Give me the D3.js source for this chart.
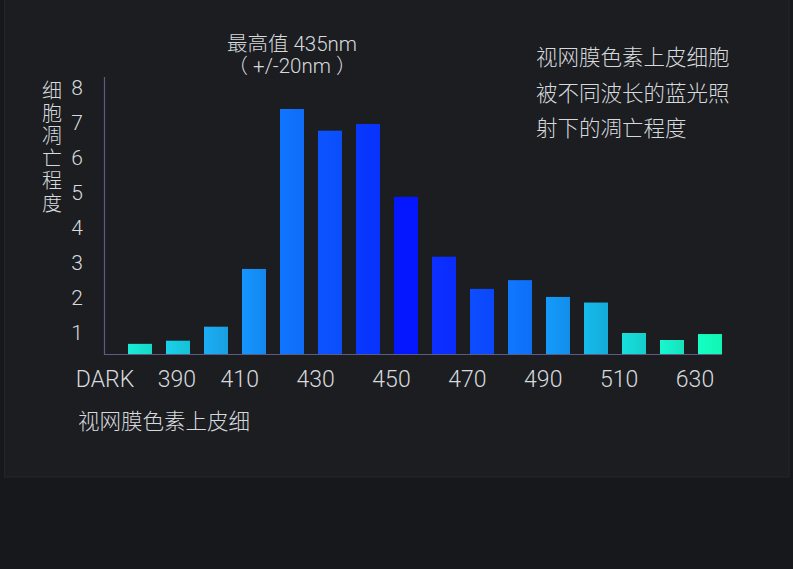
<!DOCTYPE html>
<html>
<head>
<meta charset="utf-8">
<script src="https://cdn.jsdelivr.net/npm/d3@7"></script>
<style>
  html, body { margin: 0; padding: 0; background: #17181c; }
  svg { display: block; }
  text { font-family: Roboto, "Noto Sans CJK SC", sans-serif; fill: #d6dadd; font-weight: 300; }
</style>
</head>
<body>
<svg id="chart" width="793" height="569"></svg>
<script>
// bar values (16 bars, wavelengths DARK .. 630)
const barValues = [0.69, 0.78, 1.18, 2.83, 7.4, 6.78, 6.97, 4.89, 3.18, 2.26, 2.51, 2.03, 1.87, 1.0, 0.8, 0.97]
const barColors = ['#16d8c6', '#17c0d6', '#199fe0', '#1388ee', '#0f6cf8', '#0b4dfa', '#0833fc', '#0416ff',
                   '#0a2cfc', '#0b47fa', '#0e6ef6', '#128ee8', '#14abd8', '#15cdca', '#16e2bd', '#12f5b4']
const xLabels = ['DARK', '390', '410', '430', '450', '470', '490', '510', '630']
const yTicks = [1, 2, 3, 4, 5, 6, 7, 8]
const yTitle = '细胞凋亡程度'
const xTitle = '视网膜色素上皮细'
const peakLines = ['最高值 435nm', '（ +/-20nm ）']
const noteLines = ['视网膜色素上皮细胞', '被不同波长的蓝光照', '射下的凋亡程度']

const svg = d3.select('#chart')

// card behind the chart
svg.append('rect')
    .attr('x', 4.5).attr('y', -1)
    .attr('width', 784.5).attr('height', 478)
    .attr('fill', '#1c1d21')
    .attr('stroke', '#24252a')

const margin = {left: 104, top: 77}
const baseValue = 0.4   // baseline of the axis sits below tick "1"

const x = d3.scaleBand()
    .domain(d3.range(barValues.length))
    .range([128, 722])
    .paddingInner(14 / 38)
    .paddingOuter(0)

const y = d3.scaleLinear()
    .domain([baseValue, 8])
    .range([354, 88])

// label axis (labels don't line up with bars in the original)
const xl = d3.scalePoint()
    .domain(xLabels)
    .range([88, 695])
const labelNudge = {DARK: 17, '390': 13}

const defs = svg.append('defs')
barColors.forEach((c, i) => {
    const g = defs.append('linearGradient')
        .attr('id', 'bar' + i)
        .attr('x1', 0).attr('x2', 1).attr('y1', 0).attr('y2', 0)
    g.append('stop').attr('offset', 0).attr('stop-color', d3.color(c).brighter(0.25))
    g.append('stop').attr('offset', 1).attr('stop-color', c)
})

svg.append('g')
    .selectAll('rect')
    .data(barValues)
    .join('rect')
    .attr('x', (d, i) => x(i))
    .attr('width', x.bandwidth())
    .attr('y', d => y(d))
    .attr('height', d => y(baseValue) - y(d))
    .attr('fill', (d, i) => `url(#bar${i})`)

// axis lines
const axisColor = '#5c5b86'
svg.append('path')
    .attr('d', `M${margin.left + .5},${margin.top}V${y(baseValue) + .5}H${x(barValues.length - 1) + x.bandwidth()}`)
    .attr('fill', 'none')
    .attr('stroke', axisColor)
    .attr('stroke-width', 1.2)

// y tick labels
svg.append('g')
    .selectAll('text')
    .data(yTicks)
    .join('text')
    .attr('x', 77)
    .attr('y', d => y(d) + 7)
    .attr('text-anchor', 'middle')
    .style('font-size', '21px')
    .text(d => d)

// x labels
svg.append('g')
    .selectAll('text')
    .data(xLabels)
    .join('text')
    .attr('x', d => xl(d) + (labelNudge[d] || 0))
    .attr('y', 387)
    .attr('text-anchor', 'middle')
    .style('font-size', '23px')
    .text(d => d)

// vertical y title
svg.append('g')
    .selectAll('text')
    .data(Array.from(yTitle))
    .join('text')
    .attr('x', 52)
    .attr('y', (d, i) => 98 + i * 22.6)
    .attr('text-anchor', 'middle')
    .style('font-size', '20px')
    .text(d => d)

svg.append('text')
    .attr('x', 78)
    .attr('y', 429)
    .style('font-size', '21.5px')
    .text(xTitle)

svg.append('g')
    .selectAll('text')
    .data(peakLines)
    .join('text')
    .attr('x', 292)
    .attr('y', (d, i) => 51 + i * 22)
    .attr('text-anchor', 'middle')
    .style('font-size', '20.5px')
    .text(d => d)

svg.append('g')
    .selectAll('text')
    .data(noteLines)
    .join('text')
    .attr('x', 536)
    .attr('y', (d, i) => 65 + i * 35.5)
    .style('font-size', '21.5px')
    .text(d => d)
</script>
</body>
</html>
